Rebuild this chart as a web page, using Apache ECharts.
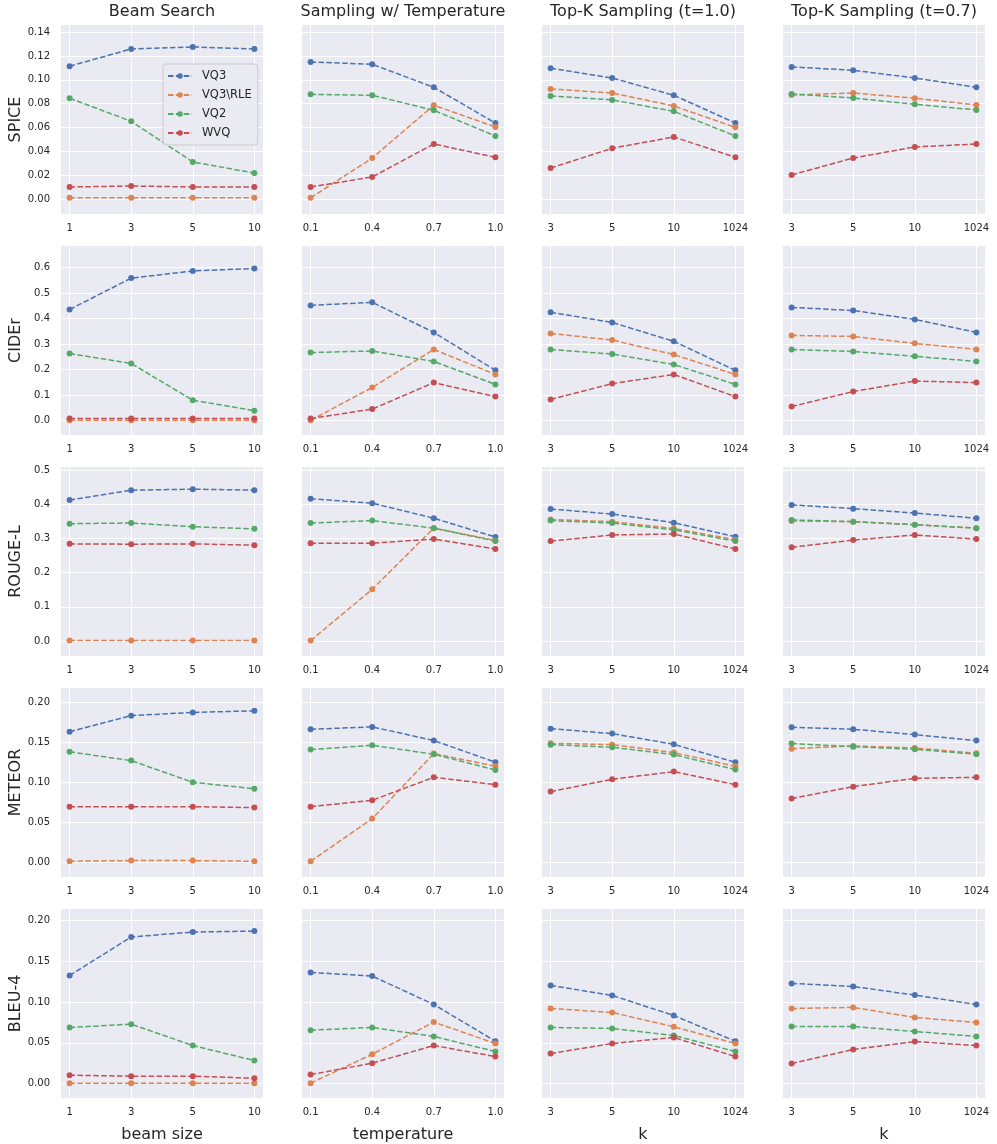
<!DOCTYPE html>
<html>
<head>
<meta charset="utf-8">
<script src="https://cdn.jsdelivr.net/npm/echarts@6/dist/echarts.min.js"></script>
<style>
  html, body { margin: 0; background: #fff; }
  #chart { width: 997px; height: 1144px; }
</style>
</head>
<body>
<div id="chart"></div>
<script>
const seriesNames = ['VQ3', 'VQ3\\RLE', 'VQ2', 'WVQ']
const colors = ['#4c72b0', '#dd8452', '#55a868', '#c44e52']

const beamSizes = ['1', '3', '5', '10']
const temperatures = ['0.1', '0.4', '0.7', '1.0']
const topKs = ['3', '5', '10', '1024']

const columnTitles = ['Beam Search', 'Sampling w/ Temperature', 'Top-K Sampling (t=1.0)', 'Top-K Sampling (t=0.7)']
const columnCategories = [beamSizes, temperatures, topKs, topKs]
const xAxisNames = ['beam size', 'temperature', 'k', 'k']
const metricNames = ['SPICE', 'CIDEr', 'ROUGE-L', 'METEOR', 'BLEU-4']

// each block: VQ3, VQ3\RLE, VQ2, WVQ
const spiceBeam = [[0.1115, 0.126, 0.1277, 0.126], [0.001, 0.001, 0.001, 0.001], [0.0846, 0.0652, 0.0311, 0.0218], [0.0101, 0.0109, 0.0101, 0.0101]]
const spiceTemp = [[0.1151, 0.1131, 0.0938, 0.0638], [0.001, 0.0344, 0.0787, 0.0605], [0.0879, 0.0871, 0.0745, 0.0529], [0.0101, 0.0185, 0.0462, 0.035]]
const spiceTopK10 = [[0.1098, 0.1016, 0.0871, 0.0638], [0.0924, 0.089, 0.0781, 0.0602], [0.0865, 0.0832, 0.0736, 0.0529], [0.026, 0.0426, 0.0521, 0.035]]
const spiceTopK07 = [[0.1109, 0.1081, 0.1016, 0.0938], [0.0874, 0.089, 0.0846, 0.079], [0.0882, 0.0848, 0.0795, 0.0748], [0.0202, 0.0344, 0.0437, 0.0462]]

const ciderBeam = [[0.436, 0.559, 0.587, 0.597], [0.001, 0.001, 0.001, 0.001], [0.263, 0.224, 0.080, 0.039], [0.008, 0.008, 0.008, 0.008]]
const ciderTemp = [[0.452, 0.464, 0.346, 0.197], [0.001, 0.130, 0.279, 0.181], [0.267, 0.273, 0.232, 0.142], [0.008, 0.045, 0.149, 0.094]]
const ciderTopK10 = [[0.425, 0.385, 0.311, 0.197], [0.342, 0.316, 0.259, 0.181], [0.279, 0.261, 0.220, 0.142], [0.083, 0.145, 0.181, 0.094]]
const ciderTopK07 = [[0.444, 0.432, 0.397, 0.346], [0.334, 0.330, 0.303, 0.279], [0.279, 0.271, 0.252, 0.232], [0.055, 0.114, 0.155, 0.149]]

const rougeBeam = [[0.412, 0.441, 0.444, 0.441], [0.001, 0.001, 0.001, 0.001], [0.343, 0.345, 0.334, 0.328], [0.284, 0.283, 0.284, 0.280]]
const rougeTemp = [[0.416, 0.403, 0.359, 0.304], [0.001, 0.151, 0.330, 0.294], [0.345, 0.352, 0.330, 0.292], [0.286, 0.286, 0.298, 0.269]]
const rougeTopK10 = [[0.386, 0.371, 0.346, 0.305], [0.355, 0.349, 0.329, 0.296], [0.352, 0.345, 0.325, 0.292], [0.292, 0.310, 0.313, 0.269]]
const rougeTopK07 = [[0.398, 0.387, 0.374, 0.359], [0.351, 0.349, 0.340, 0.330], [0.354, 0.349, 0.340, 0.330], [0.274, 0.295, 0.310, 0.298]]

const meteorBeam = [[0.163, 0.183, 0.187, 0.189], [0.0017, 0.0025, 0.0025, 0.0017], [0.138, 0.127, 0.100, 0.092], [0.0697, 0.0697, 0.0697, 0.0685]]
const meteorTemp = [[0.166, 0.169, 0.152, 0.125], [0.0017, 0.0548, 0.1357, 0.120], [0.1407, 0.1461, 0.1349, 0.1154], [0.0697, 0.0776, 0.1062, 0.0971]]
const meteorTopK10 = [[0.1668, 0.1606, 0.1473, 0.1249], [0.1486, 0.1469, 0.137, 0.1199], [0.1469, 0.1436, 0.1345, 0.1158], [0.0884, 0.1038, 0.1133, 0.0971]]
const meteorTopK07 = [[0.1685, 0.166, 0.1594, 0.1519], [0.1419, 0.1453, 0.1428, 0.1361], [0.1482, 0.1444, 0.1411, 0.1349], [0.0797, 0.0946, 0.105, 0.1062]]

const bleuBeam = [[0.1325, 0.1796, 0.1857, 0.1869], [0.0005, 0.0005, 0.0005, 0.0005], [0.0687, 0.0728, 0.0466, 0.0282], [0.0102, 0.009, 0.009, 0.0065]]
const bleuTemp = [[0.1362, 0.1317, 0.0969, 0.0519], [0.0005, 0.036, 0.0753, 0.0491], [0.0654, 0.0687, 0.0577, 0.0393], [0.011, 0.025, 0.0466, 0.0331]]
const bleuTopK10 = [[0.1202, 0.108, 0.0834, 0.0519], [0.092, 0.0871, 0.0695, 0.0491], [0.0687, 0.0675, 0.0589, 0.0393], [0.0368, 0.0491, 0.0564, 0.0331]]
const bleuTopK07 = [[0.1227, 0.119, 0.1084, 0.0969], [0.092, 0.0933, 0.081, 0.0748], [0.0699, 0.0699, 0.0638, 0.0577], [0.0245, 0.0417, 0.0515, 0.0466]]

const spiceTicks = [0, 0.02, 0.04, 0.06, 0.08, 0.10, 0.12, 0.14]
const ciderTicks = [0, 0.1, 0.2, 0.3, 0.4, 0.5, 0.6]
const rougeTicks = [0, 0.1, 0.2, 0.3, 0.4, 0.5]
const meteorTicks = [0, 0.05, 0.10, 0.15, 0.20]
const bleuTicks = [0, 0.05, 0.10, 0.15, 0.20]

const rowData = [
  [spiceBeam, spiceTemp, spiceTopK10, spiceTopK07],
  [ciderBeam, ciderTemp, ciderTopK10, ciderTopK07],
  [rougeBeam, rougeTemp, rougeTopK10, rougeTopK07],
  [meteorBeam, meteorTemp, meteorTopK10, meteorTopK07],
  [bleuBeam, bleuTemp, bleuTopK10, bleuTopK07]
]
const rowTicks = [spiceTicks, ciderTicks, rougeTicks, meteorTicks, bleuTicks]
const rowDecimals = [2, 1, 1, 2, 2]
const rowLimits = [[-0.0126, 0.1461], [-0.0566, 0.685], [-0.044, 0.5088], [-0.0179, 0.2174], [-0.0177, 0.2139]]

// layout
const colLeft = [61, 302, 542, 783]
const rowTop = [25, 246, 467, 688, 909]
const plotW = 202
const plotH = 189
const textColor = '#262626'
const font = 'DejaVu Sans'

const grid = []
const xAxis = []
const yAxis = []
const series = []
const title = []

rowData.forEach((row, r) => {
  row.forEach((block, c) => {
    const idx = grid.length
    grid.push({
      left: colLeft[c], top: rowTop[r], width: plotW, height: plotH,
      show: true, backgroundColor: '#eaeaf2', borderWidth: 0
    })
    const cats = columnCategories[c]
    xAxis.push({
      type: 'value', gridIndex: idx, min: -0.14, max: 3.14,
      axisLine: { show: false },
      axisTick: { show: false, customValues: [0, 1, 2, 3] },
      axisLabel: {
        customValues: [0, 1, 2, 3],
        formatter: v => cats[Math.round(v)],
        color: textColor, fontFamily: font, fontSize: 10, margin: 9
      },
      splitLine: { show: true, lineStyle: { color: '#ffffff', width: 1 } },
      name: r === 4 ? xAxisNames[c] : '',
      nameLocation: 'middle', nameGap: 29,
      nameTextStyle: { color: textColor, fontFamily: font, fontSize: 16 }
    })
    const dec = rowDecimals[r]
    yAxis.push({
      type: 'value', gridIndex: idx, min: rowLimits[r][0], max: rowLimits[r][1],
      axisLine: { show: false },
      axisTick: { show: false, customValues: rowTicks[r] },
      axisLabel: {
        show: c === 0,
        customValues: rowTicks[r],
        formatter: v => v.toFixed(dec),
        color: textColor, fontFamily: font, fontSize: 10, margin: 11
      },
      splitLine: { show: true, lineStyle: { color: '#ffffff', width: 1 } },
      name: c === 0 ? metricNames[r] : '',
      nameLocation: 'middle', nameRotate: 90, nameGap: 37,
      nameTextStyle: { color: textColor, fontFamily: font, fontSize: 16 }
    })
    block.forEach((vals, s) => {
      series.push({
        name: seriesNames[s],
        type: 'line',
        xAxisIndex: idx, yAxisIndex: idx,
        data: vals.map((v, i) => [i, v]),
        symbol: 'circle', symbolSize: 6,
        lineStyle: { color: colors[s], width: 1.5, type: [5.5, 2.4] },
        itemStyle: { color: colors[s] },
        silent: true
      })
    })
  })
})

columnTitles.forEach((t, c) => {
  title.push({
    text: t, left: colLeft[c] + plotW / 2, top: 4, textAlign: 'center', padding: 0,
    textStyle: { color: textColor, fontFamily: font, fontSize: 16, fontWeight: 'normal' }
  })
})

const chart = echarts.init(document.getElementById('chart'))
chart.setOption({
  animation: false,
  backgroundColor: '#ffffff',
  title,
  legend: {
    data: seriesNames,
    orient: 'vertical',
    left: 163, top: 64,
    padding: [5, 6, 5, 4],
    itemGap: 5, itemWidth: 24, itemHeight: 7,
    backgroundColor: 'rgba(234,234,242,0.85)',
    borderColor: '#cccccc', borderWidth: 1, borderRadius: 3,
    textStyle: { color: textColor, fontFamily: font, fontSize: 11.5, lineHeight: 14, padding: [0, 0, 0, 5] },
    selectedMode: false
  },
  grid,
  xAxis,
  yAxis,
  series
})
</script>
</body>
</html>
